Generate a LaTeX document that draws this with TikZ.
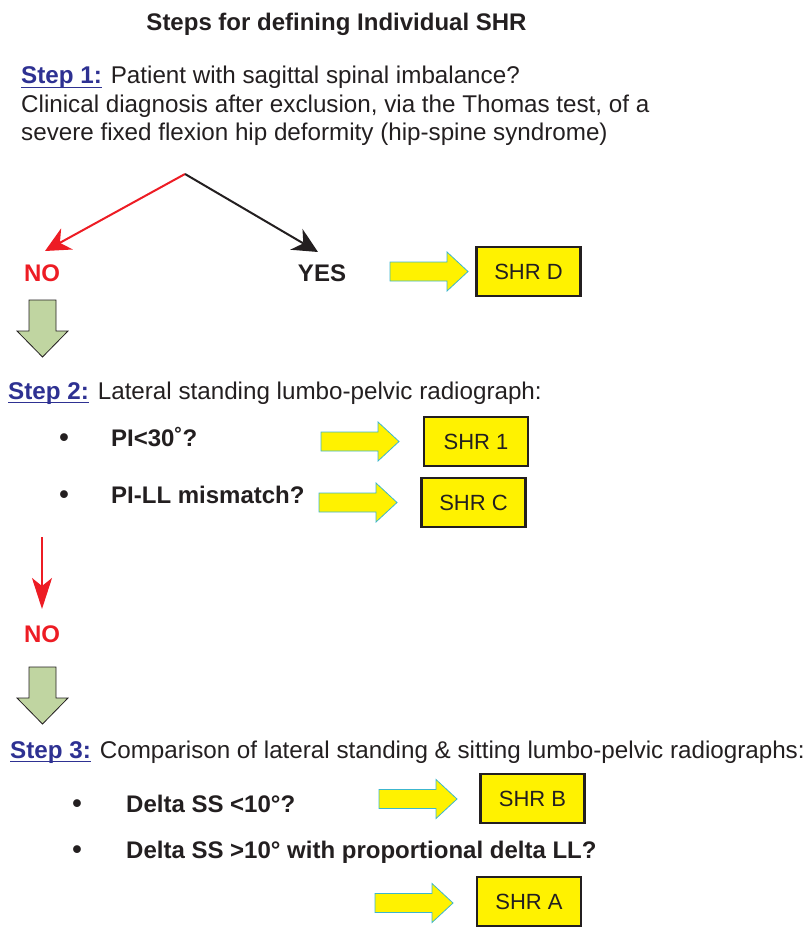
\documentclass[tikz,border=0pt]{standalone}
\usepackage{fontspec}
\setmainfont{Liberation Sans}
\usetikzlibrary{arrows.meta}
\definecolor{stepblue}{HTML}{2E3192}
\definecolor{nored}{HTML}{ED1C24}
\definecolor{boxyellow}{HTML}{FFF200}
\definecolor{arrowedge}{HTML}{3CB6CE}
\definecolor{greenfill}{HTML}{C0D5A1}
\definecolor{ink}{HTML}{231F20}
\newlength\slw
\newcommand\steplabel[1]{{\color{stepblue}\bfseries\settowidth\slw{#1}\rlap{\rule[-4pt]{\slw}{1.4pt}}#1}}
\begin{document}
\begin{tikzpicture}[x=1pt,y=-1pt,
  txt/.style={inner sep=0pt, anchor=base west, font=\fontsize{24.2}{28}\selectfont, text=ink},
  btxt/.style={txt, font=\fontsize{24}{28}\selectfont\bfseries},
  bullet/.style={inner sep=0pt, anchor=base, font=\fontsize{27}{28}\selectfont\bfseries, text=ink},
  notxt/.style={inner sep=0pt, anchor=base, font=\fontsize{24}{28}\selectfont\bfseries, text=nored},
  yestxt/.style={inner sep=0pt, anchor=base, font=\fontsize{24}{28}\selectfont\bfseries, text=ink},
  shrbox/.style={draw=ink, line width=2.8pt, fill=boxyellow, minimum width=104, minimum height=49, inner sep=0pt, font=\fontsize{22}{24}\selectfont, text=ink},
  redarr/.style={draw=nored, line width=2pt, -{Stealth[length=25pt,width=24pt,inset=8pt]}},
  blackarr/.style={draw=ink, line width=2pt, -{Stealth[length=25pt,width=24pt,inset=8pt]}},
  yarrow/.pic={\path[draw=arrowedge, fill=boxyellow, line width=0.8pt] (0,-9.5) -- (57,-9.5) -- (57,-19.5) -- (78,0) -- (57,19.5) -- (57,9.5) -- (0,9.5) -- cycle;},
  garrow/.pic={\path[draw=ink, fill=greenfill, line width=0.8pt] (-13.5,0) -- (13.5,0) -- (13.5,31) -- (25.5,31) -- (0,57) -- (-25.5,31) -- (-13.5,31) -- cycle;}
]
\useasboundingbox (0,0) rectangle (808,928);

% title
\node[inner sep=0pt, anchor=base, font=\fontsize{24}{28}\selectfont\bfseries, text=ink] (title) at (336.5,31) {Steps for defining Individual SHR};

% step 1
\node[txt] (s1a) at (21,84) {\steplabel{Step 1:} Patient with sagittal spinal imbalance?};
\node[txt] (s1b) at (21,112.3) {Clinical diagnosis after exclusion, via the Thomas test, of a};
\node[txt] (s1c) at (21,140.6) {severe fixed flexion hip deformity (hip-spine syndrome)};

\coordinate (apex) at (185,174);
\coordinate (notip) at (45,251);
\coordinate (yestip) at (318,252);
\draw[redarr] (apex) -- (notip);
\draw[blackarr] (apex) -- (yestip);

\node[notxt] (no1) at (42,281) {NO};
\node[yestxt] (yes) at (322,281) {YES};
\pic (ya1) at (390,271.5) {yarrow};
\node[shrbox] (shrD) at (528.5,271.5) {SHR D};

\pic (ga1) at (42.5,300) {garrow};

% step 2
\node[txt] (s2) at (8,399) {\steplabel{Step 2:} Lateral standing lumbo-pelvic radiograph:};
\node[bullet] (b1) at (64,446) {•};
\node[btxt] (pi) at (111,446) {PI<30˚?};
\pic (ya2) at (321,441.5) {yarrow};
\node[shrbox] (shr1) at (476,441.5) {SHR 1};
\node[bullet] (b2) at (64,503) {•};
\node[btxt] (pill) at (111,503) {PI-LL mismatch?};
\pic (ya3) at (319,502.5) {yarrow};
\node[shrbox] (shrC) at (473.5,502.5) {SHR C};

\coordinate (vtop) at (42,537);
\coordinate (vtip) at (42,609);
\draw[redarr, -{Stealth[length=31pt,width=20pt,inset=8pt]}] (vtop) -- (vtip);
\node[notxt] (no2) at (42,642) {NO};
\pic (ga2) at (42.5,667) {garrow};

% step 3
\node[txt] (s3) at (10,758) {\steplabel{Step 3:} Comparison of lateral standing \& sitting lumbo-pelvic radiographs:};
\node[bullet] (b3) at (77,812) {•};
\node[btxt] (dss1) at (126,812) {Delta SS <10°?};
\pic (ya4) at (379,799) {yarrow};
\node[shrbox] (shrB) at (532.5,798.5) {SHR B};
\node[bullet] (b4) at (77,858) {•};
\node[btxt] (dss2) at (126,858) {Delta SS >10° with proportional delta LL?};
\pic (ya5) at (375,903) {yarrow};
\node[shrbox] (shrA) at (529,901.5) {SHR A};
\end{tikzpicture}
\end{document}
